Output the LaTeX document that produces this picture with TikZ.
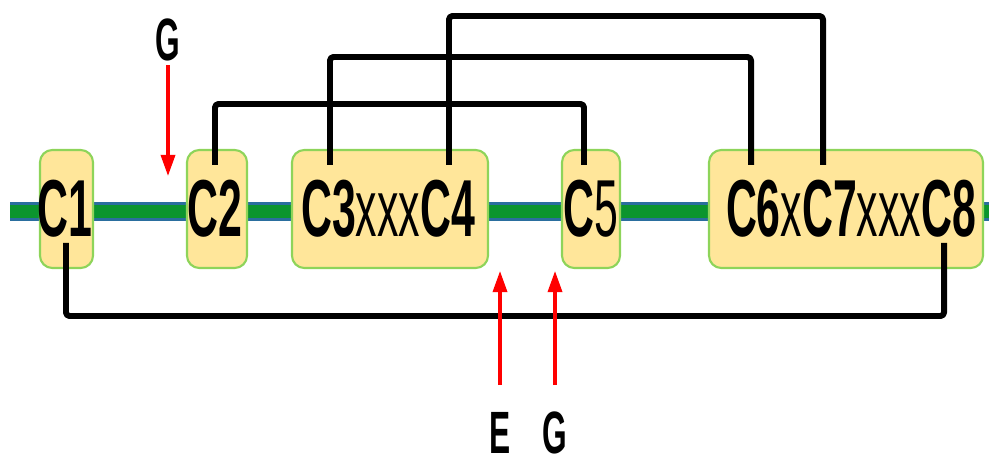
\documentclass[tikz,border=0pt]{standalone}
\usepackage{fontspec}
\setmainfont{Liberation Sans}
\usetikzlibrary{arrows.meta}
\definecolor{boxfill}{HTML}{FFE69A}
\definecolor{boxline}{HTML}{8ED45A}
\definecolor{strandblue}{HTML}{2A6E9E}
\definecolor{strandgreen}{HTML}{0B952E}
\newcommand{\narrow}[1]{\scalebox{0.53}[1]{#1}}
\tikzset{
  box/.style={fill=boxfill, draw=boxline, line width=1.2pt, rounded corners=7pt},
  lbl/.style={inner sep=0pt, font=\fontsize{46}{46}\selectfont},
  link/.style={line width=3.4pt, rounded corners=2pt},
  site/.style={red, line width=1.9pt, -{Triangle[width=8pt,length=12pt]}},
  sitelbl/.style={inner sep=0pt, font=\fontsize{34}{34}\selectfont\bfseries}
}
\begin{document}
\begin{tikzpicture}[x=0.02cm, y=-0.02cm, line join=round]
	\useasboundingbox (0,0) rectangle (989,462);
	% strand
	\fill[strandblue] (10,202) rectangle (989,221);
	\fill[strandgreen] (10,205) rectangle (989,218);
	% boxes
	\foreach \xa/\xb in {40/93, 187/247, 292/488, 562/620, 709/983}
		\draw[box] (\xa,150) rectangle (\xb,268);
	\node[lbl] (c1) at (65,209) {\narrow{\textbf{C1}}};
	\node[lbl] (c2) at (215,209) {\narrow{\textbf{C2}}};
	\node[lbl] (c34) at (388,209) {\narrow{\textbf{C3}xxx\textbf{C4}}};
	\node[lbl] (c5) at (591,209) {\narrow{\textbf{C}5}};
	\node[lbl] (c68) at (851,209) {\narrow{\textbf{C6}x\textbf{C7}xxx\textbf{C8}}};
	% disulfide bonds
	\path (66,243) coordinate (p1) (215,165) coordinate (p2) (330,165) coordinate (p3)
		(449,165) coordinate (p4) (584,165) coordinate (p5) (751,165) coordinate (p6)
		(823,165) coordinate (p7) (944,243) coordinate (p8);
	\draw[link] (p2) -- ++(0,-61) -| (p5);
	\draw[link] (p3) -- ++(0,-108) -| (p6);
	\draw[link] (p4) -- ++(0,-149) -| (p7);
	\draw[link] (p1) -- ++(0,73) -| (p8);
	% sites
	\node[sitelbl] (g1) at (168,40) {\narrow{G}};
	\node[sitelbl] (e2) at (500,433) {\narrow{E}};
	\node[sitelbl] (g2) at (555,433) {\narrow{G}};
	\path (168,176) coordinate (t1) (500,271) coordinate (t2) (555,271) coordinate (t3)
		(500,385) coordinate (s2) (555,385) coordinate (s3);
	\draw[site] (g1.south) ++(0,4) -- (t1);
	\draw[site] (s2) -- (t2);
	\draw[site] (s3) -- (t3);
\end{tikzpicture}
\end{document}
